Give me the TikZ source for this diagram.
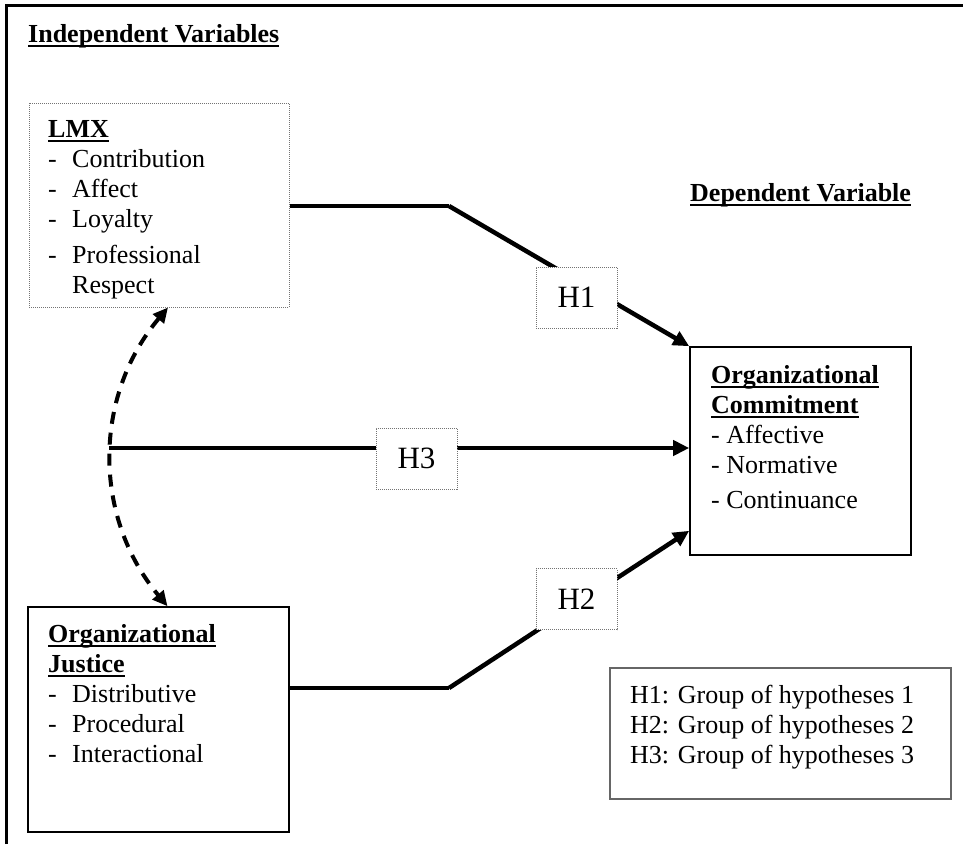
\documentclass[tikz,border=0pt]{standalone}
\usepackage{fontspec}
\setmainfont{Liberation Serif}
\usetikzlibrary{arrows.meta}
\newcommand{\ulbf}[1]{\setbox0\hbox{\textbf{#1}}\rlap{\rule[-5pt]{\wd0}{2.4pt}}\box0}
\newcommand{\dashitem}[1]{\makebox[24pt][l]{-}#1}
\tikzstyle{plainbox} = [rectangle, draw=black, line width=1.6pt, inner sep=0pt]
\tikzstyle{dotbox} = [rectangle, draw=black!55, dash pattern=on 1pt off 1pt, line width=1pt, inner sep=0pt]
\tikzstyle{hyp} = [rectangle, draw=black!55, dash pattern=on 1pt off 1pt, line width=1pt, fill=white, minimum width=81pt, minimum height=61pt, inner sep=0pt, font=\fontsize{31}{36}\selectfont]
\tikzstyle{txt} = [anchor=base west, inner sep=0pt]
\tikzstyle{link} = [line width=4.5pt]
\tikzstyle{edge} = [line width=4.5pt, -{Triangle[length=16pt,width=15pt]}]
\tikzstyle{corr} = [line width=4pt, dash pattern=on 12pt off 9pt, {Triangle[length=15pt,width=14pt]}-{Triangle[length=15pt,width=14pt]}]
\begin{document}
\begin{tikzpicture}[x=1pt, y=-1pt, font=\fontsize{26}{30}\selectfont]
\useasboundingbox (0,0) rectangle (963,844);
\draw [line width=3pt] (6,844) -- (6,5) -- (963,5);

\node (indep) [txt] at (28,42) {\ulbf{Independent Variables}};
\node (dep) [txt] at (690,201) {\ulbf{Dependent Variable}};

\node (lmx) [dotbox, minimum width=260pt, minimum height=204pt] at (159,205) {};
\node (oj) [plainbox, minimum width=261pt, minimum height=225pt] at (158.5,719.5) {};
\node (oc) [plainbox, minimum width=221pt, minimum height=208pt] at (800.5,451) {};
\node (legend) [plainbox, draw=black!60, line width=1.2pt, minimum width=341pt, minimum height=131pt] at (780.5,733.5) {};

\node (lmxtext) [txt] at (48,137) {\begin{tabular}[t]{@{}l@{}}
\ulbf{LMX}\\
\dashitem{Contribution}\\
\dashitem{Affect}\\
\dashitem{Loyalty}\\[6pt]
\dashitem{Professional}\\
\hspace{24pt}Respect
\end{tabular}};
\node (ojtext) [txt] at (48,642) {\begin{tabular}[t]{@{}l@{}}
\ulbf{Organizational}\\
\ulbf{Justice}\\
\dashitem{Distributive}\\
\dashitem{Procedural}\\
\dashitem{Interactional}
\end{tabular}};
\node (octext) [txt] at (711,383) {\begin{tabular}[t]{@{}l@{}}
\ulbf{Organizational}\\
\ulbf{Commitment}\\
- Affective\\
- Normative\\[5pt]
- Continuance
\end{tabular}};
\node (legtext) [txt] at (630,703) {\begin{tabular}[t]{@{}l@{}}
H1: Group of hypotheses 1\\
H2: Group of hypotheses 2\\
H3: Group of hypotheses 3
\end{tabular}};

\coordinate (b1) at (449,206);
\coordinate (b2) at (449,688);
\coordinate (jn) at (109,448);
\coordinate (e2) at ([yshift=25pt]oc.south west);

\draw [link] (lmx.east |- b1) -- (b1);
\draw [edge] (b1) -- (oc.north west);
\draw [edge] (jn) -- (jn -| oc.west);
\draw [link] (b2 -| oj.east) -- (b2);
\draw [edge] (b2) -- (e2);
\draw [corr] ([xshift=9pt]lmx.south) to[bend right=40] ([xshift=9pt]oj.north);

\node (h1) [hyp] at (576.5,297.5) {H1};
\node (h2) [hyp] at (576.5,599) {H2};
\node (h3) [hyp] at (416.5,458.5) {H3};

\end{tikzpicture}
\end{document}
